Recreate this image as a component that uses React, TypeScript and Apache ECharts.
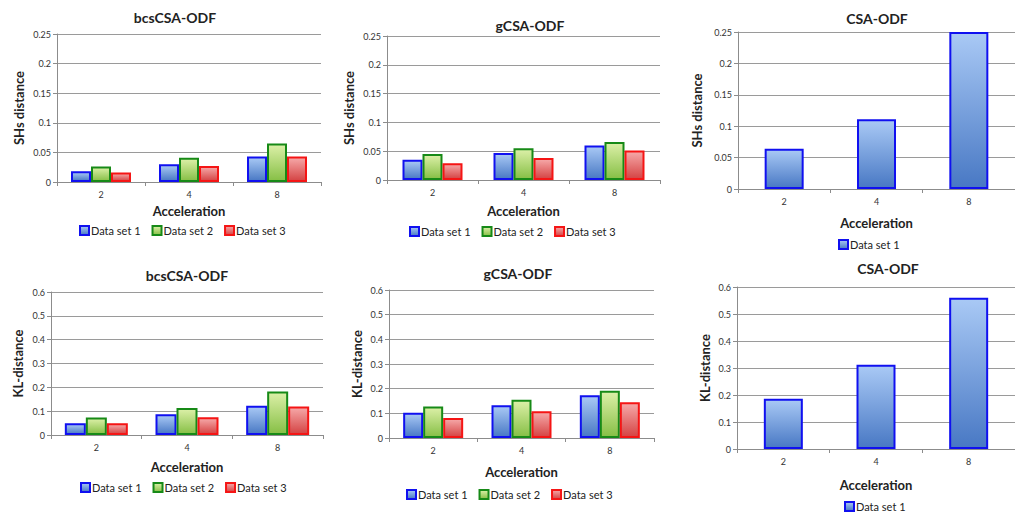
import React, { useEffect, useRef } from "react";
import * as echarts from "echarts";

// Acceleration factors on the x axis
const categories = ["2", "4", "8"];
const seriesNames = ["Data set 1", "Data set 2", "Data set 3"];

// SHs distance
const shsBcs1 = [0.018, 0.03, 0.043];
const shsBcs2 = [0.026, 0.041, 0.065];
const shsBcs3 = [0.016, 0.027, 0.043];
const shsG1 = [0.035, 0.047, 0.06];
const shsG2 = [0.045, 0.055, 0.066];
const shsG3 = [0.029, 0.038, 0.051];
const shsCsa = [0.064, 0.111, 0.25];

// KL-distance
const klBcs1 = [0.049, 0.087, 0.123];
const klBcs2 = [0.073, 0.113, 0.183];
const klBcs3 = [0.049, 0.074, 0.12];
const klG1 = [0.102, 0.133, 0.173];
const klG2 = [0.128, 0.155, 0.192];
const klG3 = [0.081, 0.108, 0.145];
const klCsa = [0.186, 0.312, 0.56];

const FONT = "Lato, 'Open Sans', sans-serif";

const grad = (top: string, bottom: string) =>
  new echarts.graphic.LinearGradient(0, 0, 0, 1, [
    { offset: 0, color: top },
    { offset: 1, color: bottom },
  ]);

const styles = [
  { fill: () => grad("#a9c9f5", "#4878c4"), border: "#1010f0" },
  { fill: () => grad("#dcf0a8", "#86bf45"), border: "#178a17" },
  { fill: () => grad("#f6a9a9", "#d44343"), border: "#f51515" },
];

type Panel = {
  title: string;
  yName: string;
  max: number;
  interval: number;
  data: number[][];
  grid: { left: number; top: number; width: number; height: number };
  titlePos: [number, number];
  legendPos: [number, number];
  yGap: number;
  xGap: number;
  barWidth: number;
};

const panels: Panel[] = [
  {
    title: "bcsCSA-ODF", yName: "SHs distance", max: 0.25, interval: 0.05,
    data: [shsBcs1, shsBcs2, shsBcs3],
    grid: { left: 57, top: 34, width: 264, height: 148 },
    titlePos: [175, 17], legendPos: [79, 225], yGap: 32, xGap: 22, barWidth: 20,
  },
  {
    title: "gCSA-ODF", yName: "SHs distance", max: 0.25, interval: 0.05,
    data: [shsG1, shsG2, shsG3],
    grid: { left: 387, top: 36, width: 273, height: 144 },
    titlePos: [530, 25], legendPos: [409, 226], yGap: 32, xGap: 24, barWidth: 20,
  },
  {
    title: "CSA-ODF", yName: "SHs distance", max: 0.25, interval: 0.05,
    data: [shsCsa],
    grid: { left: 738, top: 32, width: 280, height: 157 },
    titlePos: [877, 18], legendPos: [838, 239], yGap: 35, xGap: 27, barWidth: 39,
  },
  {
    title: "bcsCSA-ODF", yName: "KL-distance", max: 0.6, interval: 0.1,
    data: [klBcs1, klBcs2, klBcs3],
    grid: { left: 51, top: 292, width: 272, height: 143 },
    titlePos: [187, 275], legendPos: [80, 482], yGap: 27, xGap: 25, barWidth: 21,
  },
  {
    title: "gCSA-ODF", yName: "KL-distance", max: 0.6, interval: 0.1,
    data: [klG1, klG2, klG3],
    grid: { left: 389, top: 290, width: 265, height: 148 },
    titlePos: [518, 273], legendPos: [406, 489], yGap: 26, xGap: 27, barWidth: 20,
  },
  {
    title: "CSA-ODF", yName: "KL-distance", max: 0.6, interval: 0.1,
    data: [klCsa],
    grid: { left: 737, top: 287, width: 285, height: 162 },
    titlePos: [888, 268], legendPos: [844, 501], yGap: 26, xGap: 29, barWidth: 39,
  },
];

function buildOption() {
  const grid: any[] = [];
  const xAxis: any[] = [];
  const yAxis: any[] = [];
  const series: any[] = [];
  const legend: any[] = [];
  const graphic: any[] = [];

  panels.forEach((p, i) => {
    grid.push({ ...p.grid, containLabel: false });
    xAxis.push({
      type: "category",
      gridIndex: i,
      data: categories,
      name: "Acceleration",
      nameLocation: "middle",
      nameGap: p.xGap,
      nameTextStyle: { fontFamily: FONT, fontWeight: "bold", fontSize: 13, color: "#222" },
      axisLine: { lineStyle: { color: "#8c8c8c", width: 1 } },
      axisTick: { show: true, length: 4, lineStyle: { color: "#8c8c8c" } },
      axisLabel: { fontFamily: FONT, fontSize: 9, color: "#333", margin: 8 },
    });
    yAxis.push({
      type: "value",
      gridIndex: i,
      min: 0,
      max: p.max,
      interval: p.interval,
      name: p.yName,
      nameLocation: "middle",
      nameGap: p.yGap,
      nameTextStyle: { fontFamily: FONT, fontWeight: "bold", fontSize: 13, color: "#222" },
      axisLine: { show: true, lineStyle: { color: "#8c8c8c", width: 1 } },
      axisTick: { show: true, length: 4, lineStyle: { color: "#8c8c8c" } },
      axisLabel: { fontFamily: FONT, fontSize: 9, color: "#333", margin: 6 },
      splitLine: { lineStyle: { color: "#9a9a9a", width: 1 } },
    });
    p.data.forEach((vals, k) => {
      series.push({
        type: "bar",
        name: seriesNames[k],
        xAxisIndex: i,
        yAxisIndex: i,
        data: vals,
        barWidth: p.barWidth,
        barGap: "0%",
        itemStyle: {
          color: styles[k].fill(),
          borderColor: styles[k].border,
          borderWidth: 2,
        },
      });
    });
    legend.push({
      left: p.legendPos[0],
      top: p.legendPos[1],
      padding: 0,
      data: seriesNames.slice(0, p.data.length),
      icon: "rect",
      itemWidth: 9,
      itemHeight: 9,
      itemGap: 11,
      selectedMode: false,
      textStyle: { fontFamily: FONT, fontSize: 11, color: "#222", padding: [0, 0, 0, -3] },
    });
    graphic.push({
      type: "text",
      x: p.titlePos[0],
      y: p.titlePos[1],
      style: {
        text: p.title,
        fontFamily: FONT,
        fontWeight: "bold",
        fontSize: 14,
        fill: "#222",
        align: "center",
        verticalAlign: "middle",
      },
    });
  });

  return {
    animation: false,
    backgroundColor: "#ffffff",
    grid,
    xAxis,
    yAxis,
    series,
    legend,
    graphic,
  };
}

export default function App() {
  const ref = useRef<HTMLDivElement>(null);
  useEffect(() => {
    if (!ref.current) return;
    const chart = echarts.init(ref.current, undefined, { renderer: "svg" });
    chart.setOption(buildOption());
    return () => chart.dispose();
  }, []);
  return (
    <div
      ref={ref}
      style={{ position: "fixed", left: 0, top: 0, width: 1015, height: 517, background: "#fff" }}
    />
  );
}
